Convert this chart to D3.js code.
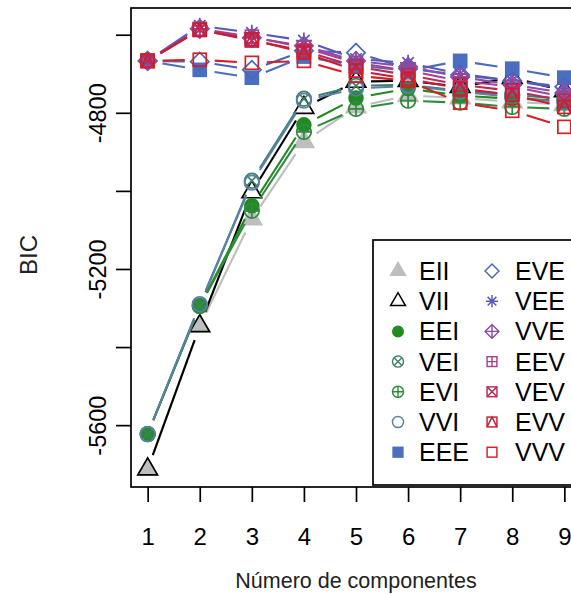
<!DOCTYPE html>
<html>
<head>
<meta charset="utf-8">
<script src="https://cdn.jsdelivr.net/npm/d3@7"></script>
<style>
  html, body { margin: 0; padding: 0; background: #ffffff; }
  svg { display: block; font-family: "Liberation Sans", Arial, Helvetica, sans-serif; }
</style>
</head>
<body>
<svg id="chart" width="571" height="594"></svg>
<script>
// ---------------- data ----------------
const components = [1, 2, 3, 4, 5, 6, 7, 8, 9];
const models = ["EII","VII","EEI","VEI","EVI","VVI","EEE","EVE","VEE","VVE","EEV","VEV","EVV","VVV"];
const bicEII = [-5713, -5346, -5072, -4874, -4785, -4756, -4762, -4772, -4779];
const bicVII = [-5713, -5346, -5003, -4787, -4720, -4718, -4733, -4710, -4744];
const bicEEI = [-5623, -5295, -5038, -4831, -4762, -4738, -4756, -4764, -4769];
const bicVEI = [-5623, -5295, -4974, -4764, -4731, -4728, -4744, -4754, -4764];
const bicEVI = [-5623, -5295, -5051, -4849, -4790, -4769, -4774, -4785, -4790];
const bicVVI = [-5623, -5290, -4979, -4769, -4738, -4731, -4746, -4759, -4774];
const bicEEE = [-4667, -4690, -4710, -4656, -4679, -4692, -4667, -4687, -4710];
const bicEVE = [-4667, -4669, -4690, -4641, -4646, -4687, -4703, -4718, -4733];
const bicVEE = [-4667, -4577, -4595, -4615, -4662, -4672, -4700, -4718, -4738];
const bicVVE = [-4667, -4585, -4608, -4628, -4667, -4682, -4708, -4728, -4749];
const bicEEV = [-4667, -4585, -4605, -4633, -4672, -4692, -4718, -4733, -4759];
const bicVEV = [-4667, -4587, -4615, -4641, -4682, -4703, -4728, -4744, -4769];
const bicEVV = [-4667, -4588, -4612, -4646, -4692, -4713, -4738, -4754, -4785];
const bicVVV = [-4667, -4664, -4672, -4667, -4705, -4718, -4774, -4795, -4836];
const yTickValues = [-5600, -5400, -5200, -5000, -4800, -4600];
const yTickLabels = ["-5600", "", "-5200", "", "-4800", ""];
const xLabel = "Número de componentes";
const yLabel = "BIC";

// styles (per model)
const modelColors = {
  EII: "#bebebe", VII: "#000000", EEI: "#218b21", VEI: "#41806a", EVI: "#2f8a3f", VVI: "#5a80a6",
  EEE: "#4a6ec0", EVE: "#4767be", VEE: "#5a58b6", VVE: "#8a4cae", EEV: "#a8408e", VEV: "#bb2a55",
  EVV: "#cc1c34", VVV: "#d41f24"
};
const modelSymbols = {
  EII: 17, VII: 2, EEI: 16, VEI: 13, EVI: 10, VVI: 1, EEE: 15,
  EVE: 5, VEE: 8, VVE: 9, EEV: 12, VEV: 7, EVV: 14, VVV: 0
};
const bicByModel = { EII: bicEII, VII: bicVII, EEI: bicEEI, VEI: bicVEI, EVI: bicEVI, VVI: bicVVI,
  EEE: bicEEE, EVE: bicEVE, VEE: bicVEE, VVE: bicVVE, EEV: bicEEV, VEV: bicVEV, EVV: bicEVV, VVV: bicVVV };
const series = models.map(m => ({ name: m, values: bicByModel[m] }));

// ---------------- layout ----------------
const svg = d3.select("#chart");
const plot = { left: 131, right: 581, top: 8, bottom: 487 };
const FONT = "'Liberation Sans', Arial, sans-serif";

const xPad = (d3.max(components) - d3.min(components)) * 0.04;
const x = d3.scaleLinear()
  .domain([d3.min(components) - xPad, d3.max(components) + xPad])
  .range([plot.left, plot.right]);

const allVals = series.flatMap(s => s.values);
const [vmin, vmax] = d3.extent(allVals);
const yPad = (vmax - vmin) * 0.04;
const y = d3.scaleLinear().domain([vmin - yPad, vmax + yPad]).range([plot.bottom, plot.top]);

// ---------------- symbols ----------------
const R = 7.3;
function drawSymbol(g, pch, cx, cy, color, k) {
  const r = R * k;
  const sw = 1.7 * Math.max(k, 0.85);
  const s = g.append("g").attr("transform", `translate(${cx},${cy})`)
    .attr("fill", "none").attr("stroke", color).attr("stroke-width", sw);
  const sq = 0.886 * r, dm = 1.253 * r;
  const tri = () => {
    const rt = 1.555 * r, yc = 0.7776 * r, xc = 1.3468 * r;
    return `M0,${-rt}L${xc},${yc}L${-xc},${yc}Z`;
  };
  switch (pch) {
    case 0: s.append("rect").attr("x", -sq).attr("y", -sq).attr("width", 2 * sq).attr("height", 2 * sq); break;
    case 1: s.append("circle").attr("r", r); break;
    case 2: s.append("path").attr("d", tri()); break;
    case 5: s.append("path").attr("d", `M0,${-dm}L${dm},0L0,${dm}L${-dm},0Z`); break;
    case 7:
      s.append("rect").attr("x", -sq).attr("y", -sq).attr("width", 2 * sq).attr("height", 2 * sq);
      s.append("path").attr("d", `M${-sq},${-sq}L${sq},${sq}M${-sq},${sq}L${sq},${-sq}`); break;
    case 8: {
      const a = r * 1.1, b = r * 0.78;
      s.append("path").attr("d", `M${-a},0L${a},0M0,${-a}L0,${a}M${-b},${-b}L${b},${b}M${-b},${b}L${b},${-b}`); break;
    }
    case 9:
      s.append("path").attr("d", `M0,${-dm}L${dm},0L0,${dm}L${-dm},0Z`);
      s.append("path").attr("d", `M${-dm},0L${dm},0M0,${-dm}L0,${dm}`); break;
    case 10:
      s.append("circle").attr("r", r);
      s.append("path").attr("d", `M${-r},0L${r},0M0,${-r}L0,${r}`); break;
    case 12:
      s.append("rect").attr("x", -sq).attr("y", -sq).attr("width", 2 * sq).attr("height", 2 * sq);
      s.append("path").attr("d", `M${-sq},0L${sq},0M0,${-sq}L0,${sq}`); break;
    case 13: {
      const q = r / Math.SQRT2;
      s.append("circle").attr("r", r);
      s.append("path").attr("d", `M${-q},${-q}L${q},${q}M${-q},${q}L${q},${-q}`); break;
    }
    case 14:
      s.append("rect").attr("x", -sq).attr("y", -sq).attr("width", 2 * sq).attr("height", 2 * sq);
      s.append("path").attr("d", `M${-sq},${sq}L0,${-sq}L${sq},${sq}`); break;
    case 15: s.append("rect").attr("x", -sq).attr("y", -sq).attr("width", 2 * sq).attr("height", 2 * sq)
      .attr("fill", color); break;
    case 16: s.append("circle").attr("r", r * 0.95).attr("fill", color); break;
    case 17: s.append("path").attr("d", tri()).attr("fill", color); break;
  }
}

// ---------------- series (type "b": gapped lines + points) ----------------
const gap = 15;
const marks = svg.append("g");
series.forEach(s => {
  const color = modelColors[s.name];
  const g = marks.append("g").attr("class", "series-" + s.name);
  const pts = components.map((c, i) => [x(c), y(s.values[i])]);
  for (let i = 0; i < pts.length - 1; i++) {
    const [x0, y0] = pts[i], [x1, y1] = pts[i + 1];
    const dx = x1 - x0, dy = y1 - y0, len = Math.hypot(dx, dy);
    if (len <= 2 * gap) continue;
    const ux = dx / len, uy = dy / len;
    g.append("line")
      .attr("x1", x0 + ux * gap).attr("y1", y0 + uy * gap)
      .attr("x2", x1 - ux * gap).attr("y2", y1 - uy * gap)
      .attr("stroke", color).attr("stroke-width", 2.1);
  }
  pts.forEach(([px, py]) => drawSymbol(g, modelSymbols[s.name], px, py, color, 1));
});

// ---------------- frame and axes ----------------
svg.append("rect")
  .attr("x", plot.left).attr("y", plot.top)
  .attr("width", plot.right - plot.left).attr("height", plot.bottom - plot.top)
  .attr("fill", "none").attr("stroke", "#000").attr("stroke-width", 1.7);

const xAxis = svg.append("g").attr("transform", `translate(0,${plot.bottom})`)
  .call(d3.axisBottom(x).tickValues(components).tickFormat(d3.format("d")).tickSize(15).tickPadding(26));
xAxis.select(".domain").remove();
xAxis.selectAll("line").attr("stroke", "#000").attr("stroke-width", 1.7);
xAxis.selectAll("text").attr("font-size", 24).attr("fill", "#000").attr("font-family", FONT);

const yAxis = svg.append("g").attr("transform", `translate(${plot.left},0)`)
  .call(d3.axisLeft(y).tickValues(yTickValues).tickFormat((d, i) => yTickLabels[i]).tickSize(15).tickPadding(0));
yAxis.select(".domain").remove();
yAxis.selectAll("line").attr("stroke", "#000").attr("stroke-width", 1.7);
yAxis.selectAll("text")
  .attr("font-size", 23.5).attr("fill", "#000").attr("font-family", FONT)
  .attr("text-anchor", "middle").attr("dy", "0").attr("x", 0).attr("y", 0)
  .attr("transform", `translate(${106 - plot.left},0) rotate(-90)`);

svg.append("text").attr("x", 356).attr("y", 588).attr("text-anchor", "middle")
  .attr("font-size", 21.5).attr("fill", "#222").attr("font-family", FONT).text(xLabel);
svg.append("text").attr("transform", `translate(37,255) rotate(-90)`).attr("text-anchor", "middle")
  .attr("font-size", 24).attr("fill", "#222").attr("font-family", FONT).text(yLabel);

// ---------------- legend ----------------
const legend = svg.append("g");
legend.append("rect").attr("x", 373).attr("y", 240).attr("width", 579 - 373).attr("height", 245)
  .attr("fill", "#fff").attr("stroke", "#000").attr("stroke-width", 1.7);
const rows = 7, rowY0 = 271, rowH = 30.2;
models.forEach((m, i) => {
  const col = Math.floor(i / rows), row = i % rows;
  const sx = col === 0 ? 398 : 492;
  const tx = col === 0 ? 419 : 515;
  const cy = rowY0 + row * rowH;
  drawSymbol(legend, modelSymbols[m], sx, cy, modelColors[m], 0.76);
  legend.append("text").attr("x", tx).attr("y", cy + 9).attr("font-size", 25)
    .attr("fill", "#000").attr("font-family", FONT).text(m);
});
</script>
</body>
</html>
